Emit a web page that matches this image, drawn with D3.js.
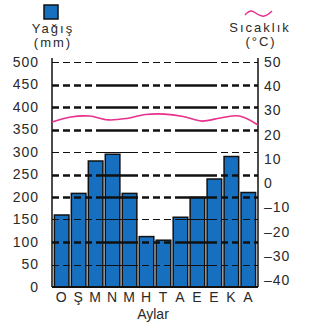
<!DOCTYPE html>
<html>
<head>
<meta charset="utf-8">
<script src="https://cdn.jsdelivr.net/npm/d3@7"></script>
<style>
  body { margin: 0; background: #fff; }
  text { font-family: "Liberation Sans", Arial, sans-serif; fill: #2a2a2a; }
</style>
</head>
<body>
<div id="graph"></div>
<script>
// month initials (Turkish), rainfall in mm, temperature in °C
var months = ["O", "Ş", "M", "N", "M", "H", "T", "A", "E", "E", "K", "A"];
var rain = [160, 208, 280, 295, 208, 112, 104, 155, 199, 240, 290, 210];
var temp = [25.2, 27.3, 27.7, 26.1, 26.7, 28.3, 28.5, 27.5, 25.6, 26.9, 27.7, 24.0];
var rainTicks = [0, 50, 100, 150, 200, 250, 300, 350, 400, 450, 500];
var tempTicks = [50, 40, 30, 20, 10, 0, -10, -20, -30, -40];
var thickLevels = [100, 200, 250, 350, 400, 450];

var W = 318, H = 336;
var plotL = 52, plotR = 258, plotT = 62, plotB = 287;

var svg = d3.select("#graph").append("svg")
    .attr("width", W)
    .attr("height", H);

var xBand = d3.scaleBand()
    .domain(d3.range(months.length))
    .range([plotL, plotR])
    .padding(0.14);

var xPoint = d3.scalePoint()
    .domain(d3.range(months.length))
    .range([plotL, plotR]);

var yRain = d3.scaleLinear().domain([0, 500]).range([plotB, plotT]);
var yTemp = d3.scaleLinear().domain([-40, 50]).range([280, plotT]);

// bars
svg.selectAll(".bar")
    .data(rain)
    .enter().append("rect")
    .attr("class", "bar")
    .attr("x", function (d, i) { return xBand(i); })
    .attr("y", function (d) { return yRain(d); })
    .attr("width", xBand.bandwidth())
    .attr("height", function (d) { return yRain(0) - yRain(d); })
    .attr("fill", "#1770bf")
    .attr("stroke", "#111")
    .attr("stroke-width", 1.5);

// grid lines on top of the bars
svg.selectAll(".grid")
    .data(rainTicks.filter(function (d) { return d > 0; }))
    .enter().append("line")
    .attr("x1", plotL)
    .attr("x2", plotR)
    .attr("y1", function (d) { return Math.round(yRain(d)) + 0.5; })
    .attr("y2", function (d) { return Math.round(yRain(d)) + 0.5; })
    .attr("stroke", "#111")
    .attr("stroke-width", function (d) { return thickLevels.indexOf(d) >= 0 ? 2.6 : 1.2; })
    .attr("stroke-dasharray", "7,4,7,4,7,4,7,4,42,4,7,4,7,4,7,4,42,4,7,4,7,4,7,4,7,4");

// axes lines
svg.append("line")
    .attr("x1", plotL).attr("x2", plotL)
    .attr("y1", plotT - 4).attr("y2", plotB)
    .attr("stroke", "#111").attr("stroke-width", 1.5);
svg.append("line")
    .attr("x1", plotR).attr("x2", plotR)
    .attr("y1", plotT - 4).attr("y2", plotB)
    .attr("stroke", "#111").attr("stroke-width", 1.5);
svg.append("line")
    .attr("x1", plotL).attr("x2", plotR)
    .attr("y1", plotB).attr("y2", plotB)
    .attr("stroke", "#111").attr("stroke-width", 2);

// temperature line
var line = d3.line()
    .x(function (d, i) { return xPoint(i); })
    .y(function (d) { return yTemp(d); })
    .curve(d3.curveCatmullRom);

svg.append("path")
    .datum(temp)
    .attr("d", line)
    .attr("fill", "none")
    .attr("stroke", "#e8308c")
    .attr("stroke-width", 1.6);

function styleTicks(g) {
    g.select(".domain").remove();
    g.selectAll("text")
        .style("font-size", "14px")
        .style("letter-spacing", "1px")
        .style("font-family", "Liberation Sans, Arial, sans-serif")
        .attr("fill", "#333");
}

// left axis labels
var yAxisL = d3.axisLeft(yRain)
    .tickValues(rainTicks)
    .tickSize(0)
    .tickPadding(13);
svg.append("g")
    .attr("transform", "translate(" + plotL + ",0)")
    .call(yAxisL)
    .call(styleTicks);

// right axis labels
var yAxisR = d3.axisRight(yTemp)
    .tickValues(tempTicks)
    .tickSize(0)
    .tickPadding(6)
    .tickFormat(function (d) { return d < 0 ? "\u2013" + Math.abs(d) : d; });
svg.append("g")
    .attr("transform", "translate(" + plotR + ",0)")
    .call(yAxisR)
    .call(styleTicks);

// month labels
var xAxis = d3.axisBottom(xBand)
    .tickSize(0)
    .tickPadding(5)
    .tickFormat(function (i) { return months[i]; });
svg.append("g")
    .attr("transform", "translate(0," + plotB + ")")
    .call(xAxis)
    .call(styleTicks);

svg.append("text")
    .attr("x", 153).attr("y", 319)
    .attr("text-anchor", "middle")
    .style("font-size", "14px")
    .text("Aylar");

// legend: rainfall
svg.append("rect")
    .attr("x", 44).attr("y", 5)
    .attr("width", 14).attr("height", 14)
    .attr("fill", "#1770bf")
    .attr("stroke", "#111").attr("stroke-width", 1.5);
svg.append("text")
    .attr("x", 53).attr("y", 33)
    .attr("text-anchor", "middle")
    .style("font-size", "13px")
    .style("letter-spacing", "2px")
    .text("Yağış");
svg.append("text")
    .attr("x", 53).attr("y", 47)
    .attr("text-anchor", "middle")
    .style("font-size", "13px")
    .style("letter-spacing", "2px")
    .text("(mm)");

// legend: temperature
svg.append("path")
    .attr("d", "M245,15 Q250,9 254,12 T262,16 T272,11")
    .attr("fill", "none")
    .attr("stroke", "#e8308c")
    .attr("stroke-width", 1.5);
svg.append("text")
    .attr("x", 260).attr("y", 32)
    .attr("text-anchor", "middle")
    .style("font-size", "13px")
    .style("letter-spacing", "2px")
    .text("Sıcaklık");
svg.append("text")
    .attr("x", 261).attr("y", 46)
    .attr("text-anchor", "middle")
    .style("font-size", "13px")
    .style("letter-spacing", "2px")
    .text("(°C)");
</script>
</body>
</html>
